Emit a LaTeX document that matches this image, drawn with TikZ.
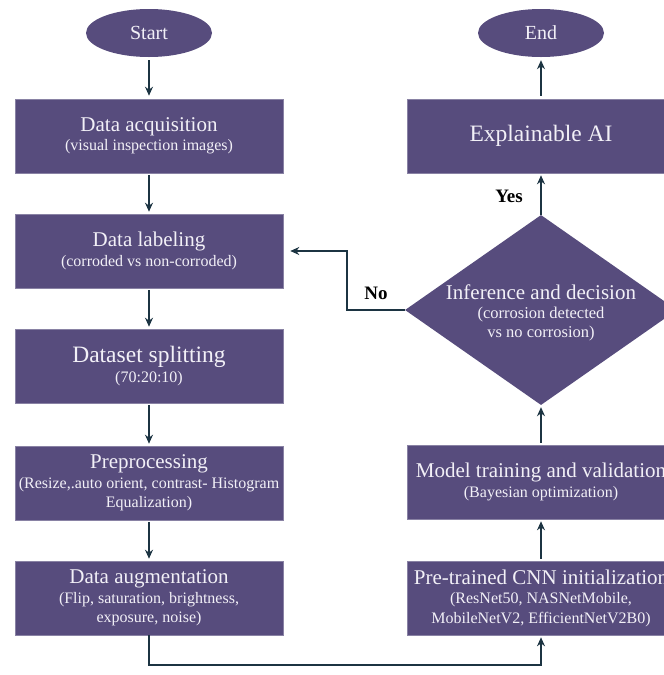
\documentclass[tikz,border=0pt]{standalone}
\usepackage{fontspec}
\setmainfont{Liberation Serif}
\usetikzlibrary{shapes.geometric,arrows.meta}
\definecolor{boxfill}{RGB}{87,76,125}
\definecolor{arrowc}{RGB}{28,52,66}
\definecolor{txtc}{RGB}{242,240,247}
\newcommand\mttl[1]{{\fontsize{21}{22}\selectfont #1}}
\newcommand\mbig[1]{{\fontsize{23.5}{25}\selectfont #1}}
\begin{document}
\begin{tikzpicture}[x=1pt,y=-1pt,
  procbox/.style={rectangle, fill=boxfill, draw=boxfill!70!white, line width=0.6pt,
    minimum width=268pt, minimum height=74pt, text=txtc, align=center, inner sep=0pt,
    font=\fontsize{16}{19.5}\selectfont},
  term/.style={ellipse, fill=boxfill, minimum width=126pt, minimum height=48pt,
    text=txtc, inner sep=0pt, font=\fontsize{20}{22}\selectfont},
  decis/.style={diamond, fill=boxfill, minimum width=272pt, minimum height=190pt, inner sep=0pt},
  flow/.style={draw=arrowc, line width=1.2pt, -{Stealth[length=9pt,width=8pt]}},
  lbl/.style={font=\fontsize{19}{21}\selectfont\bfseries, text=black}
]
\fill[white] (0,0) rectangle (664,675);
\clip (0,0) rectangle (664,675);
% left column
\node[term] (start) at (149,33) {Start};
\node[procbox] (acq) at (149,136) {\mttl{Data acquisition}\\(visual inspection images)};
\node[procbox] (lab) at (149,251) {\mttl{Data labeling}\\(corroded vs non-corroded)};
\node[procbox] (spl) at (149,366) {\mbig{Dataset splitting}\\(70:20:10)};
\node[procbox] (pre) at (149,483) {\mttl{Preprocessing}\\(Resize,.auto orient, contrast- Histogram\\Equalization)};
\node[procbox] (aug) at (149,598) {\mttl{Data augmentation}\\(Flip, saturation, brightness,\\exposure, noise)};
% right column
\node[term] (end) at (541,33) {End};
\node[procbox] (xai) at (541,136) {\mbig{Explainable AI}};
\node[decis] (dec) at (541,310) {};
\node[align=center, text=txtc, font=\fontsize{16.5}{19}\selectfont] (dectxt) at (541,313)
  {\mttl{Inference and decision}\\(corrosion detected\\vs no corrosion)};
\node[procbox] (mod) at (541,482) {\mttl{Model training and validation}\\(Bayesian optimization)};
\node[procbox] (cnn) at (541,598) {\mttl{Pre-trained CNN initialization}\\(ResNet50, NASNetMobile,\\MobileNetV2, EfficientNetV2B0)};
% connectors
\draw[flow, shorten <=3pt, shorten >=3pt] (start) -- (acq);
\draw[flow, shorten <=2pt, shorten >=2pt] (acq) -- (lab);
\draw[flow, shorten <=2pt, shorten >=2pt] (lab) -- (spl);
\draw[flow, shorten <=2pt, shorten >=2pt] (spl) -- (pre);
\draw[flow, shorten <=2pt, shorten >=2pt] (pre) -- (aug);
\coordinate (bl) at (149,665);
\draw[flow, shorten >=2pt] (aug.south) -- (bl) -| (cnn.south);
\draw[flow, shorten <=2pt, shorten >=2pt] (cnn) -- (mod);
\draw[flow, shorten <=2pt, shorten >=2pt] (mod.north) -- (dec.south);
\draw[flow, shorten >=2pt] (dec.north) -- (xai.south);
\draw[flow, shorten <=3pt, shorten >=3pt] (xai) -- (end);
\coordinate (nobend) at (347,310);
\draw[flow, shorten >=7pt] (dec.west) -- (nobend) |- (lab.east);
\node[lbl] (yes) at (509,196) {Yes};
\node[lbl] (no) at (376,293) {No};
\end{tikzpicture}
\end{document}
